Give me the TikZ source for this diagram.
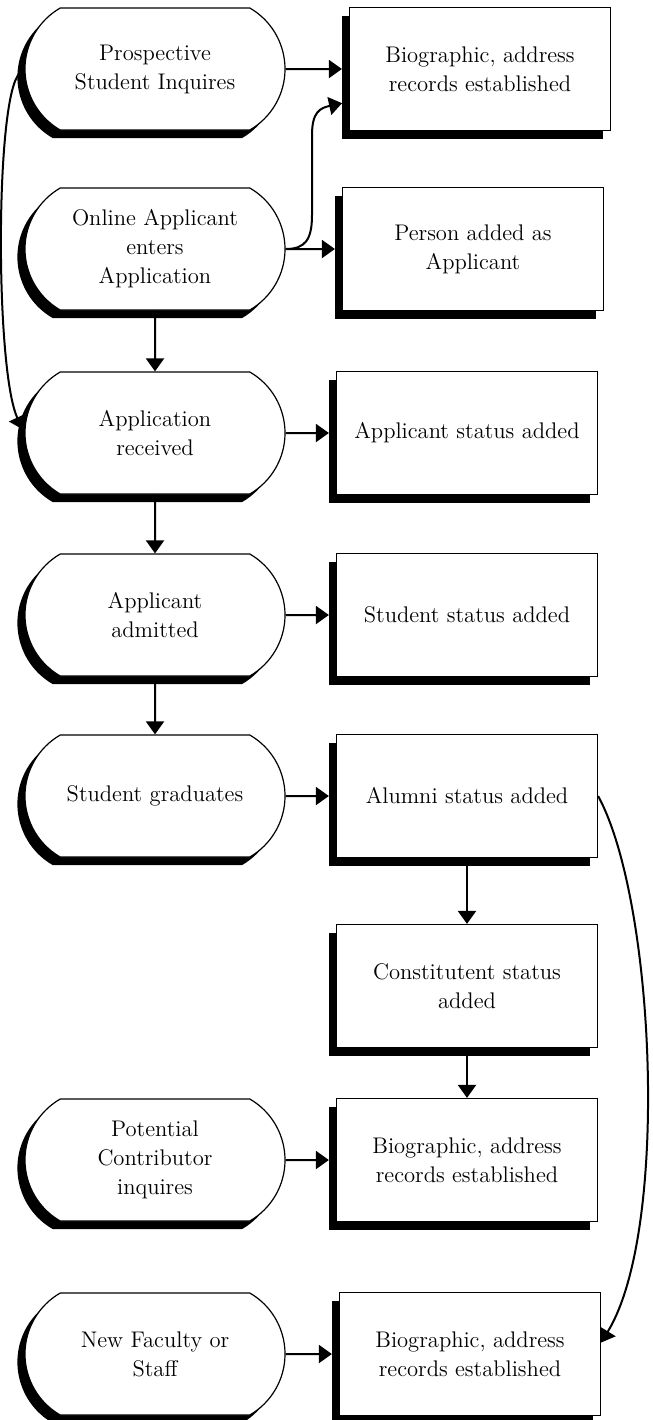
\documentclass[tikz,border=0pt]{standalone}
\usepackage{amsmath}
\usetikzlibrary{arrows.meta,shadows,shapes.misc}

\begin{document}
\begin{tikzpicture}[x=0.5pt,y=-0.5pt,
    event/.style={rounded rectangle,rounded rectangle arc length=120,draw,line width=0.6pt,fill=white,
        minimum width=130pt,minimum height=61pt,inner sep=0pt,align=center,
        font=\fontsize{11.3}{14.5}\selectfont,
        drop shadow={shadow xshift=-3.8pt,shadow yshift=-4pt,fill=black,opacity=1}},
    record/.style={draw,line width=0.6pt,fill=white,
        minimum width=130.5pt,minimum height=61.5pt,inner sep=0pt,align=center,
        font=\fontsize{11.3}{14.5}\selectfont,
        drop shadow={shadow xshift=-3.8pt,shadow yshift=-4pt,fill=black,opacity=1}},
    flow/.style={line width=1pt,-{Triangle[length=6.5pt,width=9pt]}}]
        \useasboundingbox (0,0) rectangle (653,1420);

        % Events on the left
        \node[event] (inquire) at (155,69) {Prospective\\Student Inquires};
        \node[event] (online) at (155,249) {Online Applicant\\enters\\Application};
        \node[event] (received) at (155,433) {Application\\received};
        \node[event] (admitted) at (155,615) {Applicant\\admitted};
        \node[event] (graduate) at (155,796) {Student graduates};
        \node[event] (donor) at (155,1160) {Potential\\Contributor\\inquires};
        \node[event] (staff) at (155,1354) {New Faculty or\\Staff};

        % Records on the right
        \node[record] (bioA) at (480,69) {Biographic, address\\records established};
        \node[record] (person) at (473,249) {Person added as\\Applicant};
        \node[record] (appstat) at (467,433) {Applicant status added};
        \node[record] (studstat) at (467,615) {Student status added};
        \node[record] (alumni) at (467,796) {Alumni status added};
        \node[record] (constit) at (467,986) {Constitutent status\\added};
        \node[record] (bioB) at (467,1160) {Biographic, address\\records established};
        \node[record] (bioC) at (470,1354) {Biographic, address\\records established};

        % Horizontal flows
        \draw[flow,shorten >=3.5pt] (inquire) -- (bioA);
        \draw[flow,shorten >=3.5pt] (online) -- (person);
        \draw[flow,shorten >=3.5pt] (received) -- (appstat);
        \draw[flow,shorten >=3.5pt] (admitted) -- (studstat);
        \draw[flow,shorten >=3.5pt] (graduate) -- (alumni);
        \draw[flow,shorten >=3.5pt] (donor) -- (bioB);
        \draw[flow,shorten >=3.5pt] (staff) -- (bioC);

        % Vertical flows
        \draw[flow] (online) -- (received);
        \draw[flow] (received) -- (admitted);
        \draw[flow] (admitted) -- (graduate);
        \draw[flow] (alumni) -- (constit);
        \draw[flow] (constit) -- (bioB);

        % Curved flows
        \draw[flow,shorten >=3.5pt] (online.east) .. controls (305,249) and (312,240) .. (312,215)
            -- (312,135) .. controls (312,112) and (320,108) .. (bioA.194);
        \draw[flow,shorten <=3pt,shorten >=2pt] (inquire.west) .. controls (-5,95) and (-5,370) .. (received.west);
        \draw[flow] (alumni.east) .. controls (655,900) and (670,1230) .. (bioC.5);
\end{tikzpicture}
\end{document}
